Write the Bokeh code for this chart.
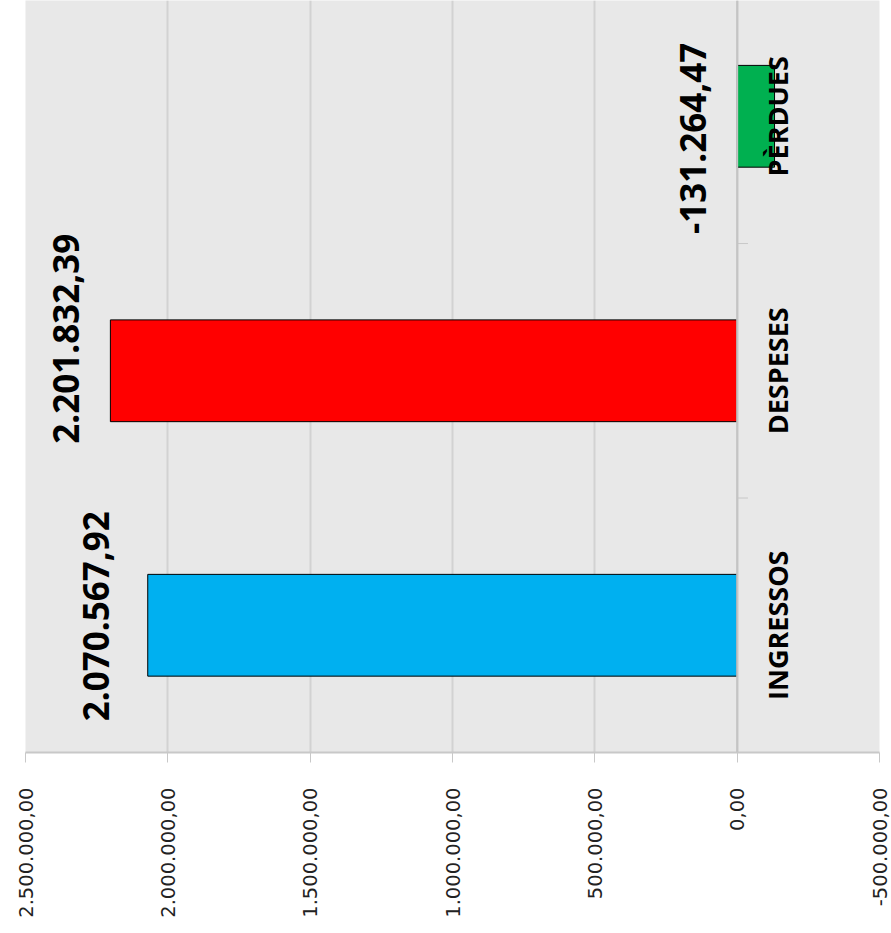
import math
from bokeh.plotting import figure
from bokeh.models import Range1d, FixedTicker, Span
from bokeh.core.properties import value
from bokeh.embed import file_html
from bokeh.resources import INLINE

# ---- data ----
categories = ["INGRESSOS", "DESPESES", "PÈRDUES"]
amounts = [2070567.92, 2201832.39, -131264.47]
value_labels = ["2.070.567,92", "2.201.832,39", "-131.264,47"]
bar_colors = ["#00b0f0", "#ff0000", "#00b050"]
tick_values = [2500000, 2000000, 1500000, 1000000, 500000, 0, -500000]
tick_labels = ["2.500.000,00", "2.000.000,00", "1.500.000,00", "1.000.000,00",
               "500.000,00", "0,00", "-500.000,00"]

# ---- style ----
label_dx = [-52, -44, -44]     # screen px
label_dy = [-9, -32, 22]       # screen px
cat_label_x = -140000

centers = [i + 0.5 for i in range(len(categories))]
boundaries = [i for i in range(1, len(categories))]

p = figure(width=891, height=933,
           x_range=Range1d(2500000, -500000),
           y_range=Range1d(0, 2.955),
           output_backend="svg", toolbar_location=None,
           y_axis_location=None,
           min_border_left=25, min_border_right=12,
           min_border_top=0, min_border_bottom=181)
p.background_fill_color = "#e8e8e8"
p.border_fill_color = "white"
p.outline_line_color = None

p.xgrid.ticker = FixedTicker(ticks=tick_values)
p.xgrid.grid_line_color = "#d2d2d2"
p.xgrid.grid_line_width = 2
p.ygrid.visible = False

ax = p.xaxis[0]
ax.ticker = FixedTicker(ticks=tick_values)
ax.major_label_overrides = dict(zip(tick_values, tick_labels))
ax.major_label_orientation = math.pi / 2
ax.major_label_text_font = "DejaVu Sans"
ax.major_label_text_font_size = "19.5px"
ax.major_label_text_color = "#222222"
ax.major_label_standoff = 25
ax.major_tick_out = 10
ax.major_tick_in = 0
ax.minor_tick_line_color = None
ax.major_tick_line_color = "#c8c8c8"
ax.axis_line_color = "#c8c8c8"
ax.axis_line_width = 2

p.add_layout(Span(location=0, dimension="height", line_color="#c4c4c4", line_width=2))

p.segment(x0=[0] * len(boundaries), x1=[-38000] * len(boundaries),
          y0=boundaries, y1=boundaries, line_color="#c8c8c8", line_width=1)

p.hbar(y=centers, left=0, right=amounts, height=0.4,
       fill_color=bar_colors, line_color="black", line_width=1)

p.text(x=[cat_label_x] * len(categories), y=centers, text=categories,
       angle=math.pi / 2, text_align="center", text_baseline="middle",
       text_font=value("Open Sans"), text_font_style="bold",
       text_font_size="27px", text_color="black")

p.text(x=[max(v, 0) for v in amounts], y=centers, text=value_labels,
       x_offset=label_dx, y_offset=label_dy,
       angle=math.pi / 2, text_align="center", text_baseline="middle",
       text_font=value("Open Sans"), text_font_style="bold",
       text_font_size="35px", text_color="black")

open("out.html", "w").write(file_html(p, INLINE))
